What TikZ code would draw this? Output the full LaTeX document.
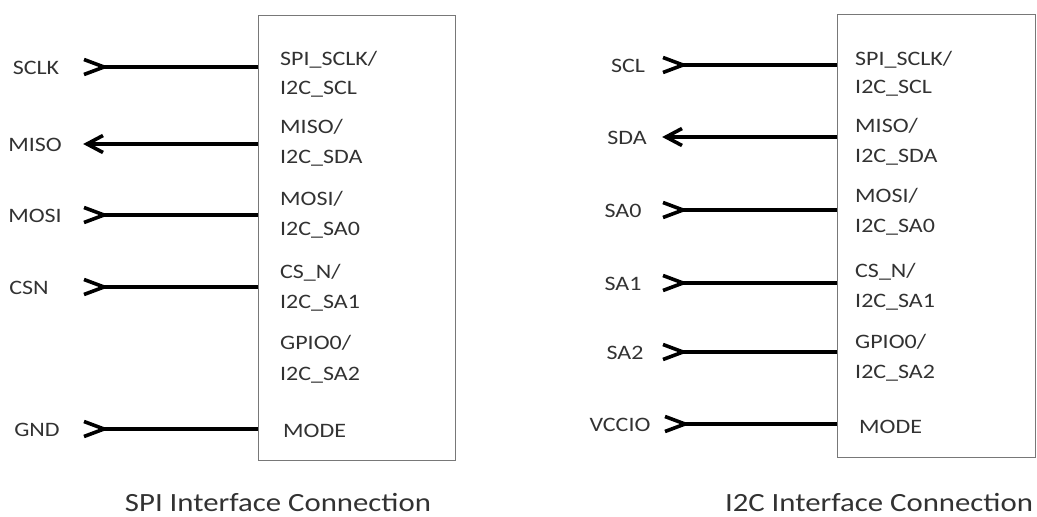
\documentclass[tikz,border=0pt]{standalone}
\usepackage{fontspec}
\newfontfamily\calib[FakeStretch=1.17]{Carlito}
\newcommand\pinfnt{\calib\fontsize{20.5}{24}\selectfont}
\newcommand\capfnt{\calib\fontsize{26.3}{30}\selectfont}
\definecolor{boxgray}{RGB}{120,120,120}
\definecolor{txt}{RGB}{50,50,50}
\tikzset{
  wire/.style={line width=3.2pt, draw=black},
  chev/.style={line width=3.6pt, draw=black, line join=miter, line cap=butt},
  chipbox/.style={draw=boxgray, line width=1.4pt, inner sep=0pt, anchor=north west},
  pinlbl/.style={font=\pinfnt, text=txt, anchor=base west, inner sep=0pt},
  siglbl/.style={font=\pinfnt, text=txt, anchor=base, inner sep=0pt},
  caplbl/.style={font=\capfnt, text=txt, anchor=base, inner sep=0pt},
  inchev/.pic={\draw[chev] (-20,-7.5) -- (0,0) -- (-20,7.5);},
  outchev/.pic={\draw[chev] (16,-8.5) -- (0,0) -- (16,8.5);},
}
\begin{document}
\begin{tikzpicture}[x=1pt,y=-1pt]
\useasboundingbox (0,0) rectangle (1037,517);

% ---------------- SPI (left) ----------------
\node[chipbox, minimum width=197pt, minimum height=445pt] (B1) at (258,15) {};
\node[pinlbl] (L1a) at (280,65) {SPI\_SCLK/};
\node[pinlbl] (L1b) at (280,94) {I2C\_SCL};
\node[pinlbl] (L2a) at (280,133) {MISO/};
\node[pinlbl] (L2b) at (280,163) {I2C\_SDA};
\node[pinlbl] (L3a) at (280,205) {MOSI/};
\node[pinlbl] (L3b) at (280,235) {I2C\_SA0};
\node[pinlbl] (L4a) at (280,278) {CS\_N/};
\node[pinlbl] (L4b) at (280,308) {I2C\_SA1};
\node[pinlbl] (L5a) at (280,349) {GPIO0/};
\node[pinlbl] (L5b) at (280,380) {I2C\_SA2};
\node[pinlbl] (L6)  at (283,437) {MODE};

\coordinate (P1) at (B1.west |- 0,67);
\coordinate (P2) at (B1.west |- 0,144);
\coordinate (P3) at (B1.west |- 0,215);
\coordinate (P4) at (B1.west |- 0,287);
\coordinate (P6) at (B1.west |- 0,429);

\node[siglbl] (S1) at (36,74) {SCLK};
\node[siglbl] (S2) at (35,151) {MISO};
\node[siglbl] (S3) at (35,222) {MOSI};
\node[siglbl] (S4) at (29,294) {CSN};
\node[siglbl] (S6) at (37,436) {GND};

\coordinate (E1) at (104,67);
\coordinate (E2) at (87,144);
\coordinate (E3) at (104,215);
\coordinate (E4) at (104,287);
\coordinate (E6) at (104,429);

\draw[wire] (E1) -- (P1);
\draw[wire] (P2) -- (E2);
\draw[wire] (E3) -- (P3);
\draw[wire] (E4) -- (P4);
\draw[wire] (E6) -- (P6);
\pic at (E1) {inchev};
\pic at (E2) {outchev};
\pic at (E3) {inchev};
\pic at (E4) {inchev};
\pic at (E6) {inchev};

\node[caplbl] (C1) at (278,511) {SPI Interface Connection};

% ---------------- I2C (right) ----------------
\node[chipbox, minimum width=198pt, minimum height=443pt] (B2) at (837,14) {};
\node[pinlbl] (R1a) at (855,65) {SPI\_SCLK/};
\node[pinlbl] (R1b) at (855,93) {I2C\_SCL};
\node[pinlbl] (R2a) at (855,132) {MISO/};
\node[pinlbl] (R2b) at (855,162) {I2C\_SDA};
\node[pinlbl] (R3a) at (855,202) {MOSI/};
\node[pinlbl] (R3b) at (855,232) {I2C\_SA0};
\node[pinlbl] (R4a) at (855,277) {CS\_N/};
\node[pinlbl] (R4b) at (855,307) {I2C\_SA1};
\node[pinlbl] (R5a) at (855,348) {GPIO0/};
\node[pinlbl] (R5b) at (855,378) {I2C\_SA2};
\node[pinlbl] (R6)  at (859,433) {MODE};

\coordinate (Q1) at (B2.west |- 0,65);
\coordinate (Q2) at (B2.west |- 0,137);
\coordinate (Q3) at (B2.west |- 0,210);
\coordinate (Q4) at (B2.west |- 0,283);
\coordinate (Q5) at (B2.west |- 0,352);
\coordinate (Q6) at (B2.west |- 0,424);

\node[siglbl] (T1) at (628,72) {SCL};
\node[siglbl] (T2) at (627,144) {SDA};
\node[siglbl] (T3) at (623,217) {SA0};
\node[siglbl] (T4) at (623,290) {SA1};
\node[siglbl] (T5) at (625,359) {SA2};
\node[siglbl] (T6) at (620,431) {VCCIO};

\coordinate (F1) at (683,65);
\coordinate (F2) at (666,137);
\coordinate (F3) at (683,210);
\coordinate (F4) at (683,283);
\coordinate (F5) at (683,352);
\coordinate (F6) at (685,424);

\draw[wire] (F1) -- (Q1);
\draw[wire] (Q2) -- (F2);
\draw[wire] (F3) -- (Q3);
\draw[wire] (F4) -- (Q4);
\draw[wire] (F5) -- (Q5);
\draw[wire] (F6) -- (Q6);
\pic at (F1) {inchev};
\pic at (F2) {outchev};
\pic at (F3) {inchev};
\pic at (F4) {inchev};
\pic at (F5) {inchev};
\pic at (F6) {inchev};

\node[caplbl] (C2) at (879,511) {I2C Interface Connection};
\end{tikzpicture}
\end{document}
